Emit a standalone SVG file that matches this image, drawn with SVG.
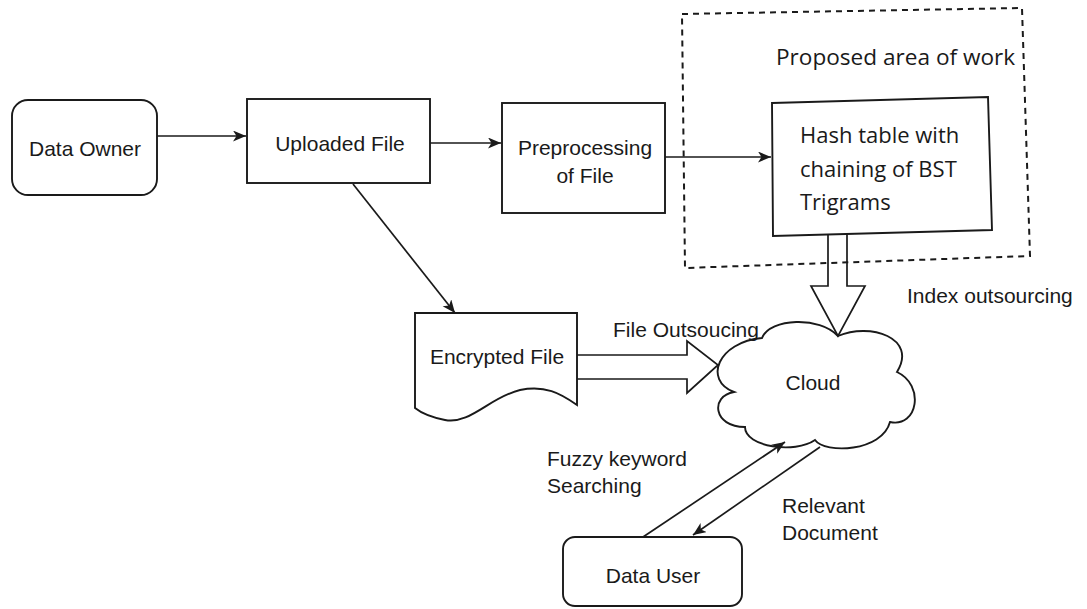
<svg xmlns="http://www.w3.org/2000/svg" width="1087" height="609" viewBox="0 0 1087 609">
<defs>
<marker id="arr" markerWidth="14" markerHeight="12" refX="13" refY="5.5" orient="auto" markerUnits="userSpaceOnUse">
<path d="M0,0 L13,5.5 L0,11 L3.5,5.5 Z" fill="#1a1a1a"/>
</marker>
<style>
.box{fill:#fff;stroke:#1a1a1a;stroke-width:1.9}
.ln{fill:none;stroke:#1a1a1a;stroke-width:1.7}
.t{font-family:"Liberation Sans",Arial,sans-serif;font-size:21px;fill:#1a1a1a}
.c{font-family:"Open Sans","Noto Sans",sans-serif;font-size:22px;fill:#1a1a1a}
.mid{text-anchor:middle}
</style>
</defs>
<rect width="1087" height="609" fill="#fff"/>

<g id="proposed-area">
<polygon points="682,14 1022,8 1030,256 685,268" fill="none" stroke="#1a1a1a" stroke-width="2" stroke-dasharray="6,5"/>
<text class="c" x="776" y="65" style="font-size:22.6px">Proposed area of work</text>
</g>

<g id="data-owner">
<rect class="box" x="12" y="100" width="145" height="95" rx="16"/>
<text class="t mid" x="85" y="156">Data Owner</text>
</g>

<g id="uploaded-file">
<rect class="box" x="247" y="99" width="183" height="84"/>
<text class="t mid" x="340" y="151">Uploaded File</text>
</g>

<g id="preprocessing">
<rect class="box" x="502" y="103" width="163" height="110"/>
<text class="t mid" x="585" y="155">Preprocessing</text>
<text class="t mid" x="585" y="183">of File</text>
</g>

<g id="hash-table">
<polygon class="box" points="772,103 988,97 992,230 773,236"/>
<text class="c" x="800" y="143">Hash table with</text>
<text class="c" x="800" y="177">chaining of BST</text>
<text class="c" x="800" y="210">Trigrams</text>
</g>

<g id="encrypted-file">
<path class="box" d="M415,313 L577,313 L577,405 C560,393 545,385 520,390 C490,397 470,425 445,420 C430,417 420,412 415,408 Z"/>
<text class="t mid" x="497" y="364">Encrypted File</text>
</g>

<g id="cloud">
<path class="box" d="M762,338 C770,318 820,316 838,336 C870,322 918,338 897,372 C925,385 918,428 890,422 C882,452 825,454 815,440 C795,454 745,447 745,427 C713,427 710,396 734,392 C703,380 718,342 762,338 Z"/>
<text class="t mid" x="813" y="390">Cloud</text>
</g>

<g id="data-user">
<rect class="box" x="563" y="537" width="179" height="69" rx="12"/>
<text class="t mid" x="653" y="583">Data User</text>
</g>

<g id="connectors">
<line class="ln" x1="157" y1="136" x2="246" y2="136" marker-end="url(#arr)"/>
<line class="ln" x1="430" y1="143" x2="501" y2="143" marker-end="url(#arr)"/>
<line class="ln" x1="665" y1="157" x2="771" y2="157" marker-end="url(#arr)"/>
<line class="ln" x1="353" y1="184" x2="455" y2="313" marker-end="url(#arr)"/>
<path class="ln" d="M577,355 L687,355 L687,341 L718,365 L687,393 L687,379 L577,379"/>
<path class="ln" d="M828,234 L828,286 L811,286 L838,336 L865,286 L847,286 L847,233"/>
<line class="ln" x1="643" y1="537" x2="785" y2="442" marker-end="url(#arr)"/>
<line class="ln" x1="820" y1="447" x2="693" y2="535" marker-end="url(#arr)"/>
<text class="t" x="613" y="337">File Outsoucing</text>
<text class="t" x="907" y="303">Index outsourcing</text>
<text class="t" x="547" y="466">Fuzzy keyword</text>
<text class="t" x="547" y="493">Searching</text>
<text class="t" x="782" y="513">Relevant</text>
<text class="t" x="782" y="540">Document</text>
</g>
</svg>
